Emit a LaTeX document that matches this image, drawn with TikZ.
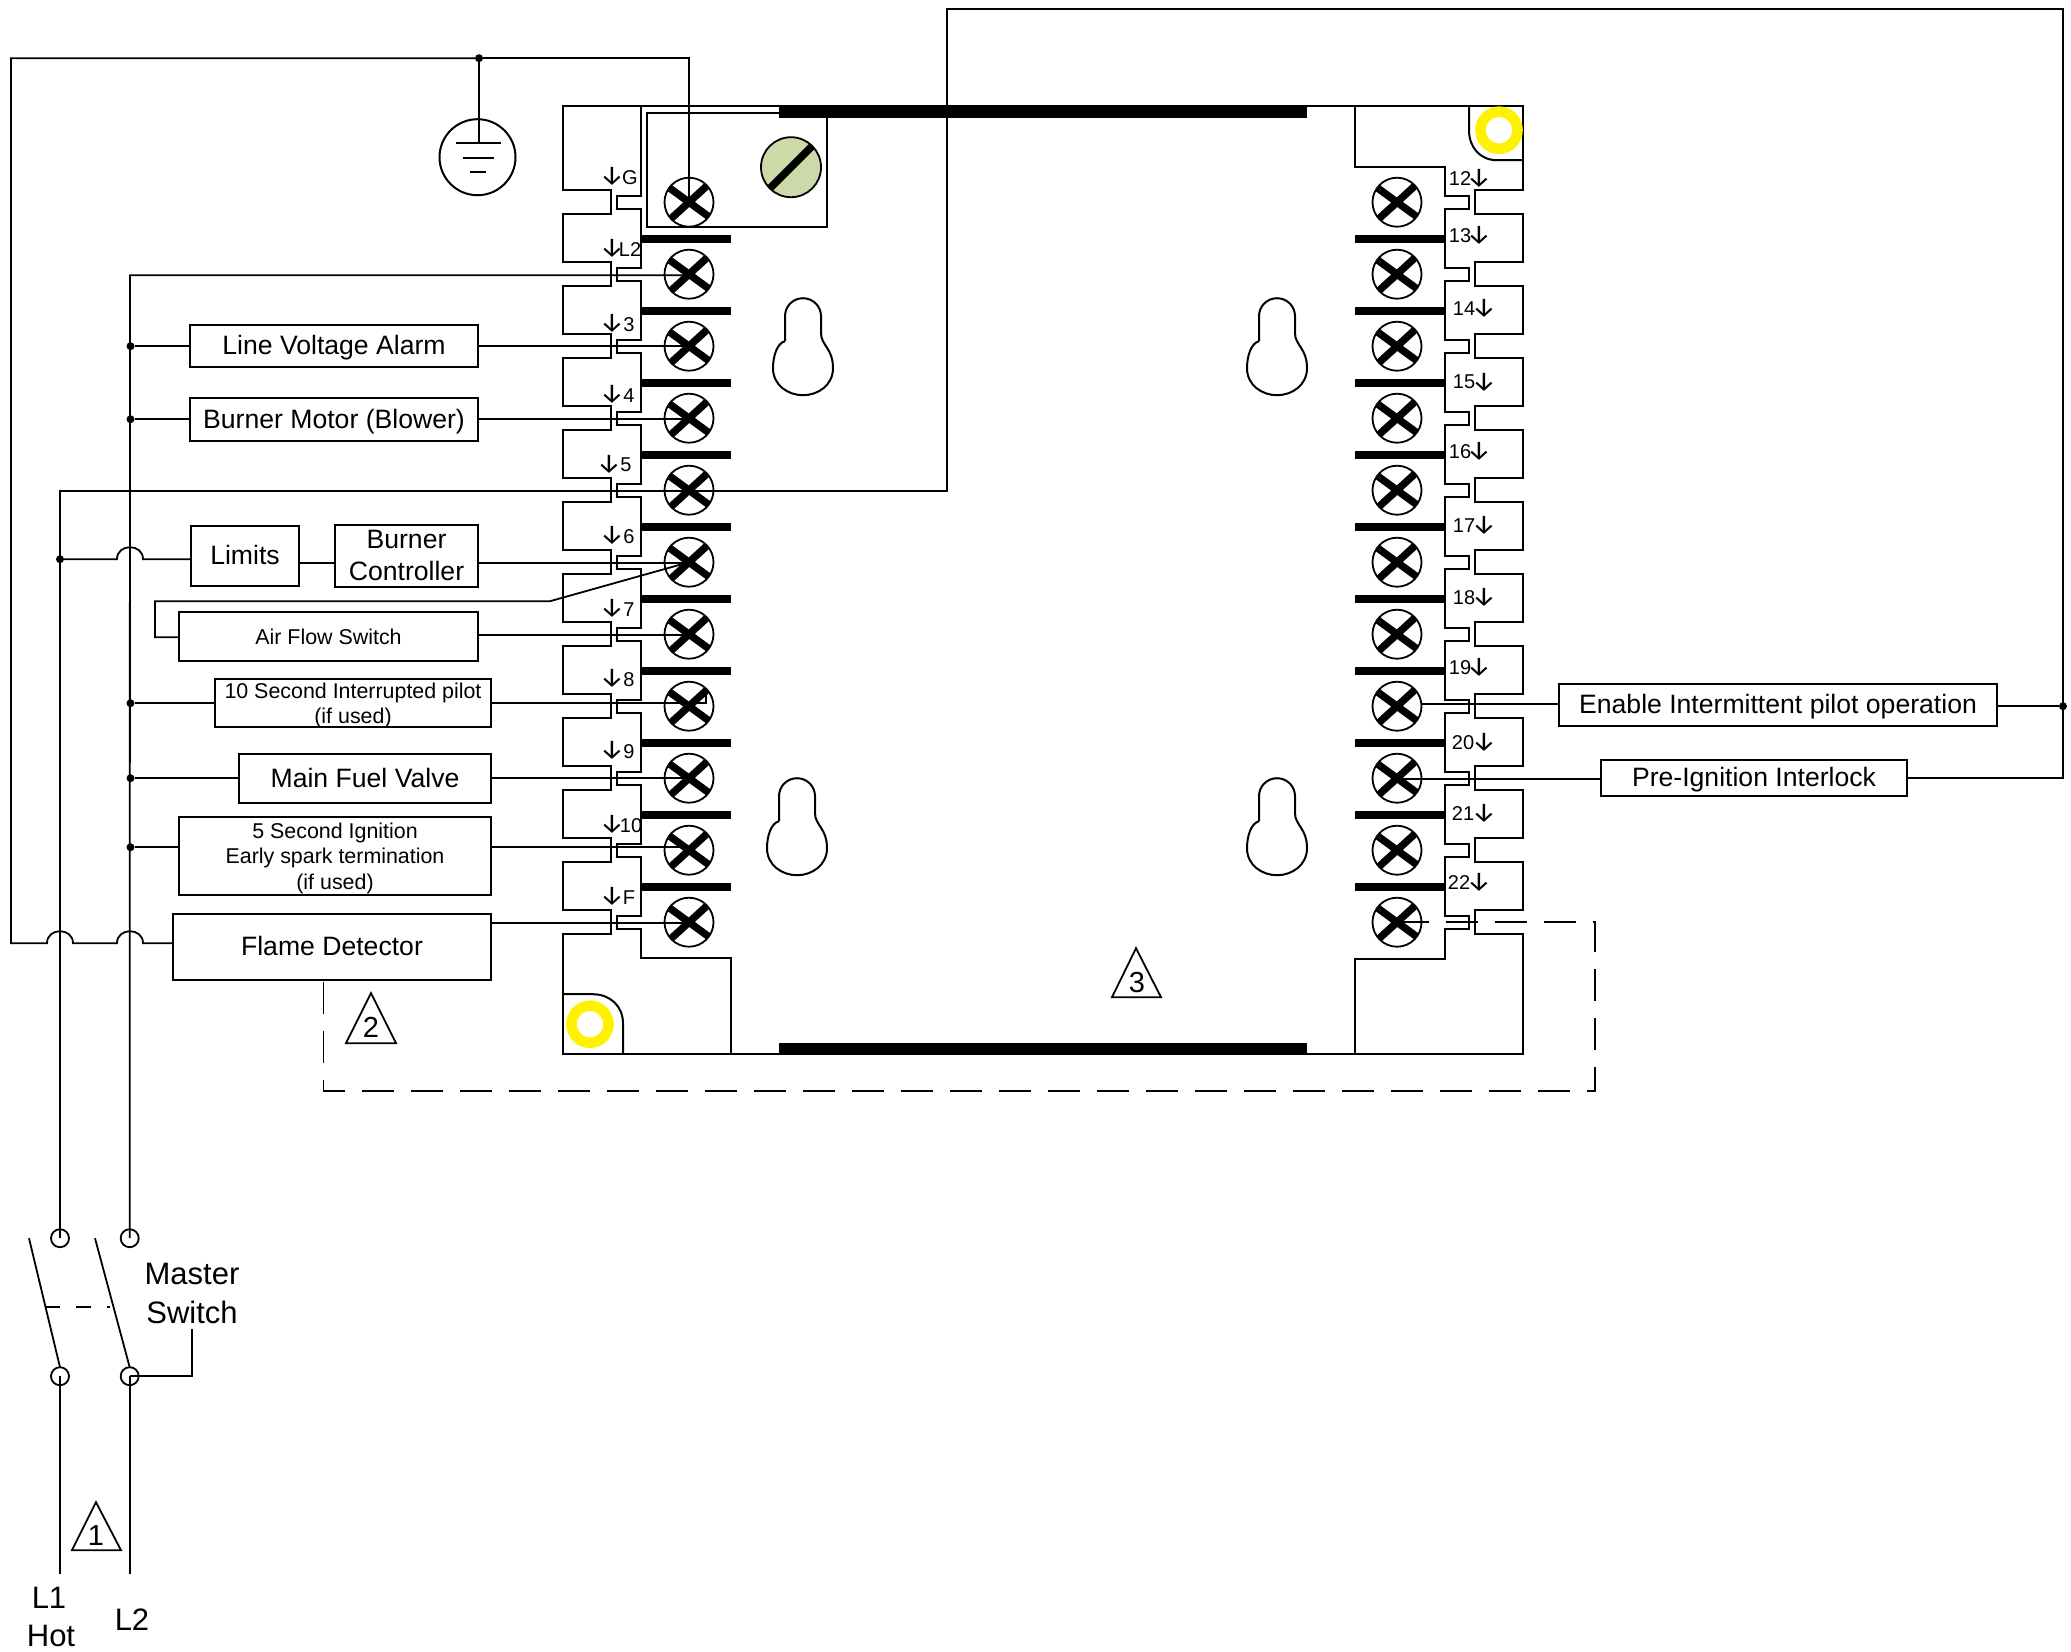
\documentclass[tikz,border=0pt]{standalone}
\usepackage{fontspec}
\setmainfont{Liberation Sans}
\newfontfamily\arrowfont{Fira Sans}
\usetikzlibrary{calc}
\definecolor{greenscrew}{HTML}{CCDAAA}
\newcommand{\pp}{72}
\tikzset{
  ol/.style={line width=1pt,line join=miter,draw=black},
  wire/.style={line width=0.9pt,draw=black},
  dashwire/.style={line width=0.9pt,draw=black,dash pattern=on 16pt off 8.5pt},
  screw/.style={circle,draw=black,line width=0.9pt,minimum size=24.5pt,inner sep=0pt,outer sep=0pt,
    path picture={\draw[line width=3.7pt]
      ([shift={(-26,-19)}]path picture bounding box.center) -- ([shift={(26,19)}]path picture bounding box.center)
      ([shift={(-23,21)}]path picture bounding box.center) -- ([shift={(23,-21)}]path picture bounding box.center);}},
  slotscrew/.style={circle,draw=black,line width=0.9pt,fill=greenscrew,minimum size=30pt,inner sep=0pt,outer sep=0pt,
    path picture={\draw[line width=3.8pt]
      ([shift={(-24,24)}]path picture bounding box.center) -- ([shift={(24,-24)}]path picture bounding box.center);}},
  ring/.style={circle,draw=yellow,line width=5.3pt,minimum size=18.5pt,inner sep=0pt,outer sep=0pt},
  contact/.style={circle,draw=black,line width=0.9pt,minimum size=9pt,inner sep=0pt,outer sep=0pt},
  dot/.style={circle,fill=black,minimum size=4pt,inner sep=0pt,outer sep=0pt},
  boxbig/.style={draw=black,line width=0.9pt,inner sep=0pt,outer sep=0pt,align=center,text depth=1pt,font=\fontsize{13.3}{16}\selectfont},
  boxsmall/.style={draw=black,line width=0.9pt,inner sep=0pt,outer sep=0pt,align=center,text depth=0pt,font=\fontsize{10.7}{12.7}\selectfont},
  termtxt/.style={inner sep=0pt,outer sep=0pt,font=\fontsize{10}{12}\selectfont},
  arrowtxt/.style={inner sep=0pt,outer sep=0pt,font=\arrowfont\fontsize{13.5}{14}\selectfont},
  bigtxt/.style={inner sep=0pt,outer sep=0pt,font=\fontsize{15.5}{19}\selectfont},
  tritxt/.style={inner sep=0pt,outer sep=0pt,font=\fontsize{14.5}{16}\selectfont},
  tri/.style={line width=0.9pt,draw=black,line join=miter},
}
\newcommand{\wbox}[7]{%
  \pgfmathsetmacro{\wbw}{(#5-#3)*0.5}\pgfmathsetmacro{\wbh}{(#6-#4)*0.5}%
  \node[#1,minimum width=\wbw pt,minimum height=\wbh pt] (#2) at ({(#3+#5)/2},{(#4+#6)/2}) {#7};}
\newcommand{\keyhole}[2]{%
  \draw[ol] (#1-18,#2+43) -- (#1-18,#2+18) .. controls (#1-18,#2+8) and (#1-10,#2) .. (#1,#2)
    .. controls (#1+10,#2) and (#1+18,#2+8) .. (#1+18,#2+18) -- (#1+18,#2+35)
    .. controls (#1+18,#2+47) and (#1+30,#2+50) .. (#1+30,#2+70)
    .. controls (#1+30,#2+87) and (#1+15,#2+97) .. (#1,#2+97)
    .. controls (#1-15,#2+97) and (#1-30,#2+87) .. (#1-30,#2+70)
    .. controls (#1-30,#2+58) and (#1-26,#2+45) .. (#1-18,#2+43);}
\begin{document}
\begin{tikzpicture}[x=0.5pt,y=-0.5pt]
\useasboundingbox (0,-1.2) rectangle (2071,1649.8);
% --- controller body outline
\draw[ol] (641,105) -- (563,105)
  foreach \i in {0,...,10} { -- (563,{189+\i*\pp}) -- (611,{189+\i*\pp}) -- (611,{213+\i*\pp}) -- (563,{213+\i*\pp}) }
  -- (563,1053) -- (1523,1053)
  foreach \i in {10,9,...,0} { -- (1523,{213+\i*\pp}) -- (1475,{213+\i*\pp}) -- (1475,{189+\i*\pp}) -- (1523,{189+\i*\pp}) }
  -- (1523,105) -- cycle;
\draw[ol] (641,105)
  foreach \i in {0,...,10} { -- (641,{195+\i*\pp}) -- (617,{195+\i*\pp}) -- (617,{208+\i*\pp}) -- (641,{208+\i*\pp}) }
  -- (641,957) -- (731,957) -- (731,1053);
\draw[ol] (1355,105) -- (1355,166) -- (1445,166)
  foreach \i in {0,...,10} { -- (1445,{195+\i*\pp}) -- (1469,{195+\i*\pp}) -- (1469,{208+\i*\pp}) -- (1445,{208+\i*\pp}) }
  -- (1445,958) -- (1355,958) -- (1355,1053);
% thick bars
\fill (779,105) rectangle (1307,117);
\fill (779,1042) rectangle (1307,1054);
\foreach \i in {0,...,9} {
  \fill (641,{234+\i*\pp}) rectangle (731,{242+\i*\pp});
  \fill (1355,{234+\i*\pp}) rectangle (1445,{242+\i*\pp});
}
% screw cover
\draw[ol] (779,112) -- (647,112) -- (647,226) -- (827,226) -- (827,117);
\node[slotscrew] (slot) at (791,166) {};
% rounded corners + rings
\draw[ol] (1469,105) -- (1469,129) .. controls (1469,146) and (1480,159) .. (1497,159) -- (1523,159);
\draw[ol] (563,993) -- (593,993) .. controls (610,993) and (623,1005) .. (623,1022) -- (623,1053);
\node[ring] (ringtop) at (1499,129) {};
\node[ring] (ringbot) at (590,1023) {};
% keyholes
\keyhole{803}{297}
\keyhole{1277}{297}
\keyhole{797}{777}
\keyhole{1277}{777}
% screws
\foreach \n [count=\c from 0] in {G,L2,3,4,5,6,7,8,9,10,F}
  \node[screw] (s\n) at (689,{201+\c*\pp}) {};
\foreach \n [count=\c from 0] in {12,13,14,15,16,17,18,19,20,21,22}
  \node[screw] (s\n) at (1397,{201+\c*\pp}) {};
% terminal labels
\foreach \n/\t/\ax/\tx/\y in {G/G/612/630/175,L2/L2/612/630/247,3/3/612/629/322,4/4/612/629/393,5/5/609/626/463,6/6/612/629/534,7/7/612/629/607,8/8/612/629/677,9/9/612/629/749,10/10/612/631/823,F/F/612/629/895}{
  \node[arrowtxt] (a\n) at (\ax,\y) {↓};
  \node[termtxt] (l\n) at (\tx,\y+1) {\t};
}
\foreach \n/\tx/\ax/\y in {12/1460/1479/177,13/1460/1479/234,14/1464/1484/307,15/1464/1484/381,16/1460/1479/450,17/1464/1484/524,18/1464/1484/596,19/1460/1479/666,20/1463/1484/741,21/1463/1484/812,22/1459/1479/881}{
  \node[arrowtxt] (a\n) at (\ax,\y) {↓};
  \node[termtxt] (l\n) at (\tx,\y) {\n};
}
% boxes
\wbox{boxbig}{bLine}{190}{324}{478}{366}{Line Voltage Alarm}
\wbox{boxbig}{bMotor}{190}{397}{478}{440}{Burner Motor (Blower)}
\wbox{boxbig}{bLimits}{191}{525}{299}{585}{Limits}
\wbox{boxbig}{bBurner}{335}{524}{478}{586}{Burner\\Controller}
\wbox{boxsmall}{bAir}{179}{611}{478}{660}{Air Flow Switch}
\wbox{boxsmall}{bTen}{215}{678}{491}{726}{10 Second Interrupted pilot\\(if used)}
\wbox{boxbig}{bFuel}{239}{753}{491}{802}{Main Fuel Valve}
\wbox{boxsmall}{bFive}{179}{816}{491}{894}{5 Second Ignition\\Early spark termination\\(if used)}
\wbox{boxbig}{bFlame}{173}{913}{491}{979}{Flame Detector}
\wbox{boxbig}{bEnable}{1559}{683}{1997}{725}{Enable Intermittent pilot operation}
\wbox{boxbig}{bPre}{1601}{759}{1907}{795}{Pre-Ignition Interlock}
% ground
\node[dot] (dG) at (479,57) {};
\node[circle,draw=black,line width=1pt,minimum size=38pt,inner sep=0pt,outer sep=0pt] (gnd) at (477.5,156) {};
\coordinate (gndbar) at (479,142);
\draw[wire] (dG) -- (gndbar);
\draw[wire] (456,142) -- (501,142) (463,157) -- (494,157);
\draw[line width=1.1pt] (470,171) -- (486,171);
% switch contacts
\node[contact] (cA) at (60,1237) {};
\node[contact] (cB) at (129.7,1237) {};
\node[contact] (cC) at (60,1375) {};
\node[contact] (cD) at (129.7,1375) {};
\draw[wire] (29,1237) -- (cC.north);
\draw[wire] (95,1237) -- (cD.north);
\draw[wire,dash pattern=on 7.5pt off 8pt] (45,1306) -- (110,1306);
\node[bigtxt,align=center,font=\fontsize{15.5}{19.5}\selectfont] (master) at (192,1292) {Master\\Switch};
\draw[wire] (cD.center) -- (192,1375) -- (master.south |- 0,1328);
\coordinate (endL1) at (60,1573);
\coordinate (endL2) at (129.7,1573);
\draw[wire] (cC.center) -- (endL1);
\draw[wire] (cD.center) -- (endL2);
\node[bigtxt] (tL1) at (49,1597) {L1};
\node[bigtxt] (tHot) at (51,1635) {Hot};
\node[bigtxt] (tL2) at (132,1618) {L2};
% triangles
\draw[tri] (96,1501) -- (121,1549) -- (72,1549) -- cycle;
\node[tritxt] (tri1) at (96,1534) {1};
\draw[tri] (371,992) -- (396,1042) -- (346,1042) -- cycle;
\node[tritxt] (tri2) at (371,1026) {2};
\draw[tri] (1136,947) -- (1161,996) -- (1112,996) -- cycle;
\node[tritxt] (tri3) at (1137,981) {3};
% L2 rail and branches
\coordinate (railtop) at (130,274);
\draw[wire] (cB.center) -- (railtop) -- (railtop -| sL2.center);
\node[dot] (d1) at (130.5,345) {};
\node[dot] (d2) at (130.5,418) {};
\node[dot] (d3) at (130.5,702) {};
\node[dot] (d4) at (130.5,777) {};
\node[dot] (d5) at (130.5,846) {};
\draw[wire] (d1) -- (d1 -| bLine.west);
\draw[wire] (d2) -- (d2 -| bMotor.west);
\draw[wire] (d3) -- (d3 -| bTen.west);
\draw[wire] (d4) -- (d4 -| bFuel.west);
\draw[wire] (d5) -- (d5 -| bFive.west);
\draw[wire] (d1 -| bLine.east) -- (d1 -| s3.center);
\draw[wire] (d2 -| bMotor.east) -- (d2 -| s4.center);
\draw[wire] (d3 -| bTen.east) -- (706,702) -- (706,693);
\draw[wire] (d4 -| bFuel.east) -- (d4 -| s9.center);
\draw[wire] (d5 -| bFive.east) -- (d5 -| s10.center);
% L1 rail
\coordinate (rail1) at (60,490);
\node[dot] (d6) at (60,558) {};
\draw[wire] (cA.center) -- (rail1) -- (947,490) -- (947,8) -- (2063,8) -- (2063,777) -- (bPre.east |- 0,777);
\draw[wire] (d6) -- (117,558) .. controls (117,542) and (143,542) .. (143,558) -- (191,558);
\draw[wire] (bLimits.east |- 0,562) -- (bBurner.west |- 0,562);
\draw[wire] (bBurner.east |- 0,562) -- (s6.center |- 0,562);
% air flow loop
\coordinate (airA) at (550,600);
\coordinate (airB) at (155,600);
\coordinate (airC) at (155,636);
\draw[wire] (s6.center) -- (airA) -- (airB) -- (airC) -- (airC -| bAir.west);
\draw[wire] (bAir.east |- 0,634) -- (s7.center |- 0,634);
% flame
\draw[wire] (dG) -- (11,57) -- (11,942) -- (47,942) .. controls (47,926) and (73,926) .. (73,942)
  -- (117,942) .. controls (117,926) and (143,926) .. (143,942) -- (bFlame.west |- 0,942);
\draw[wire] (dG) -- (dG -| sG.center) -- (sG.center);
\draw[wire] (bFlame.east |- 0,922) -- (sF.center |- 0,922);
% right side
\node[dot] (d7) at (2063,705) {};
\draw[wire] (d7) -- (d7 -| bEnable.east);
\draw[wire] (bEnable.west |- 0,703) -- (s19.east |- 0,703);
\draw[wire] (bPre.west |- 0,778) -- (s20.center |- 0,778);
\draw[dashwire] (s22.center) -- (s22.center -| 1595,0) -- (1595,1089.5) -- (323.5,1089.5) -- (323.5,979);
\end{tikzpicture}
\end{document}
